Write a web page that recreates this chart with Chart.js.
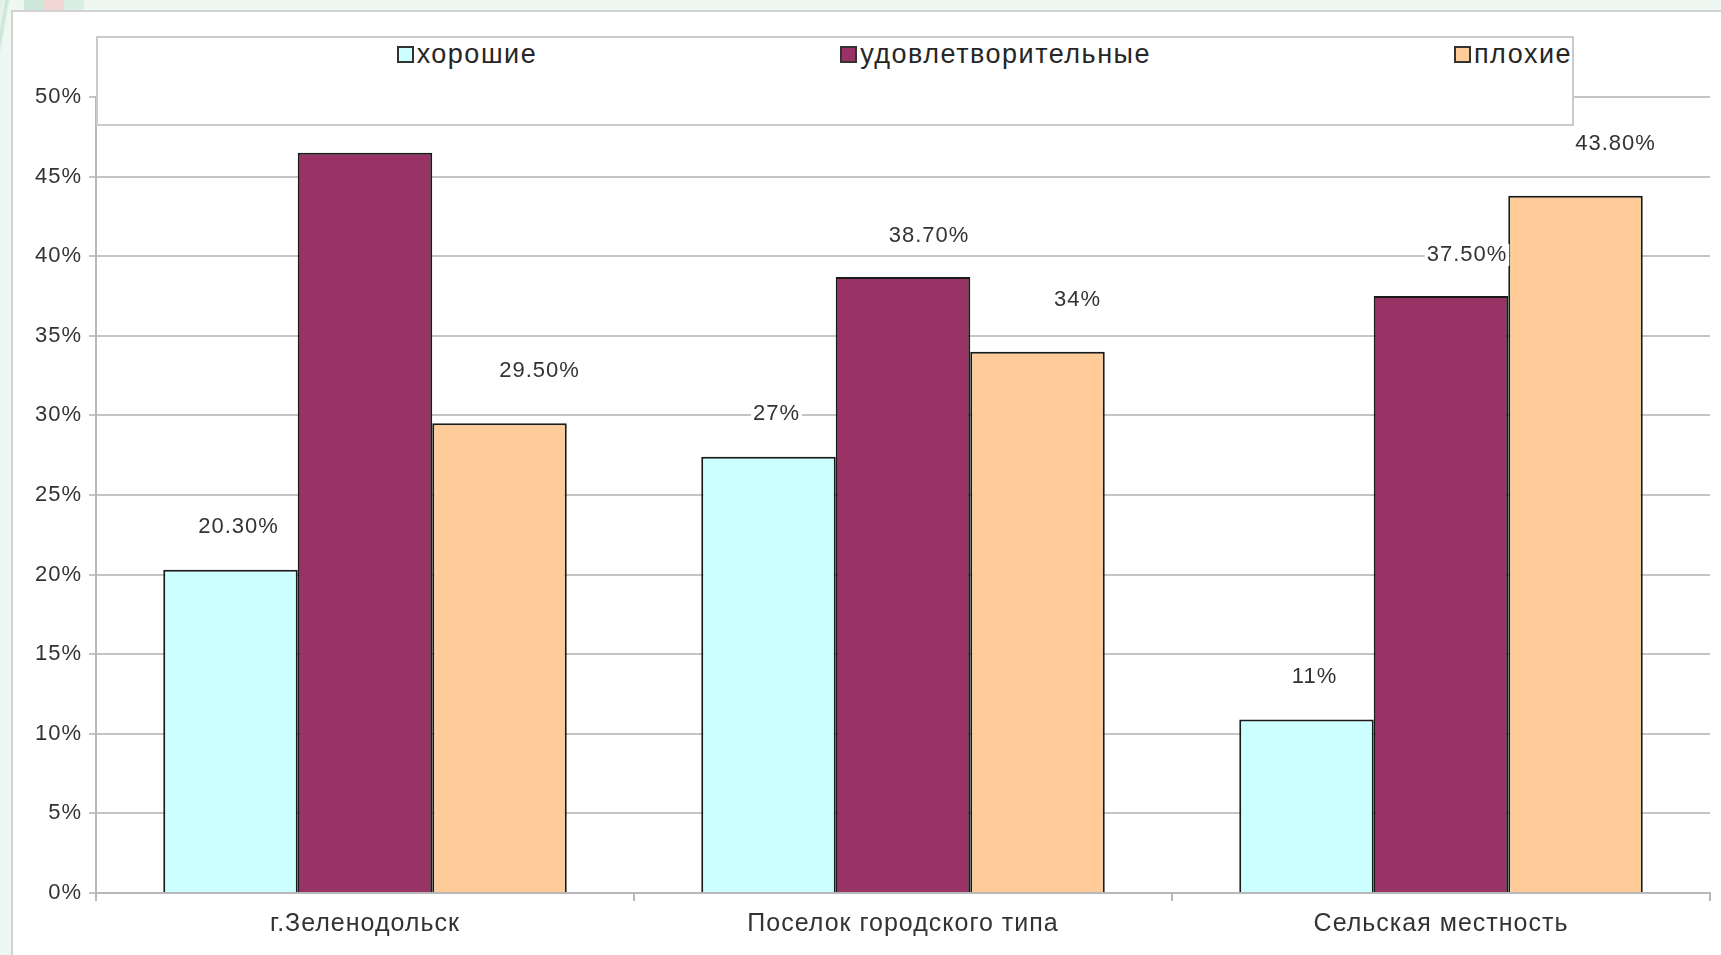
<!DOCTYPE html>
<html>
<head>
<meta charset="utf-8">
<script src="https://cdn.jsdelivr.net/npm/chart.js@4/dist/chart.umd.min.js"></script>
<style>
	html, body { margin: 0; padding: 0; }
	body {
		width: 1721px; height: 955px; overflow: hidden; position: relative;
		background: linear-gradient(100deg, #dcefe6 0px, #e8f4ee 4px, #c7e3d5 7px, #eef7f2 10px);
		font-family: "Liberation Sans", Arial, sans-serif;
	}
	#frame {
		position: absolute; left: 11px; top: 10px; width: 1720px; height: 960px;
		background: #fff; border: 2px solid #d2d2d2; box-sizing: border-box;
	}
	#topStrip {
		position: absolute; left: 24px; top: 0; width: 60px; height: 10px;
		background: linear-gradient(90deg, #cfe8dc 0, #cfe8dc 20px, #f3d6d6 20px, #f3d6d6 40px, #d9eee4 40px);
	}
	#chartCanvas { position: absolute; left: 0; top: 0; }
	#legendBox {
		position: absolute; left: 96px; top: 36px; width: 1478px; height: 90px;
		box-sizing: border-box; border: 2px solid #cacaca; background: #fff;
		display: flex; justify-content: flex-end; align-items: flex-start;
		gap: 303px; padding-top: 1px;
	}
	.legendItem { display: flex; align-items: center; font-size: 27px; letter-spacing: 1.5px; color: #262626; line-height: 30px; }
	.legendSwatch { width: 17px; height: 17px; box-sizing: border-box; border: 2px solid #333; margin-right: 3px; }
</style>
</head>
<body>
<div id="topStrip"></div>
<div id="frame"></div>
<canvas id="chartCanvas" width="1721" height="955"></canvas>
<div id="legendBox"></div>
<script>
// categories and series
var categories = ["г.Зеленодольск", "Поселок городского типа", "Сельская местность"];
var seriesNames = ["хорошие", "удовлетворительные", "плохие"];

var goodValues = [20.3, 27.4, 10.9];
var fairValues = [46.5, 38.7, 37.5];
var poorValues = [29.5, 34.0, 43.8];

// labels as printed above the bars (first maroon bar has none)
var goodLabels = ["20.30%", "27%", "11%"];
var fairLabels = ["", "38.70%", "37.50%"];
var poorLabels = ["29.50%", "34%", "43.80%"];

var yMin = 0, yMax = 50, yStep = 5;

var seriesColors = ["#CCFFFF", "#993366", "#FFCC99"];

// how far each series label sits from its bar top
var labelShift = [
	{ dx: 8, dy: 43 },
	{ dx: 26, dy: 41 },
	{ dx: 40, dy: 52 }
];

var textFamily = '"Liberation Sans", Arial, sans-serif';

var barLabelsPlugin = {
	id: "barLabels",
	beforeDraw: function(chart){
		// the source text is a bit stretched sideways
		chart.ctx.letterSpacing = "1px";
	},
	afterDatasetsDraw: function(chart){
		var ctx = chart.ctx;
		ctx.save();
		ctx.font = "22px " + textFamily;
		ctx.textAlign = "center";
		ctx.textBaseline = "middle";
		chart.data.datasets.forEach(function(ds, i){
			var meta = chart.getDatasetMeta(i);
			meta.data.forEach(function(bar, j){
				var txt = ds.valueLabels[j];
				if(!txt){ return; }
				var x = bar.x + labelShift[i].dx;
				var y = bar.y - labelShift[i].dy;
				var w = ctx.measureText(txt).width;
				ctx.fillStyle = "#fff";
				ctx.fillRect(x - w / 2 - 2, y - 11, w + 4, 22);
				ctx.fillStyle = "#333";
				ctx.fillText(txt, x, y);
			});
		});
		ctx.restore();
	}
};

var allValues = [goodValues, fairValues, poorValues];
var allLabels = [goodLabels, fairLabels, poorLabels];

var datasets = [];
for(var i = 0; i < seriesNames.length; i++){
	datasets.push({
		label: seriesNames[i],
		data: allValues[i],
		valueLabels: allLabels[i],
		backgroundColor: seriesColors[i],
		borderColor: "#1a1a1a",
		borderWidth: 2,
		categoryPercentage: 0.75,
		barPercentage: 1.0
	});
}

// html legend, built from the datasets
var legendBox = document.getElementById("legendBox");
datasets.forEach(function(ds){
	var item = document.createElement("div");
	item.className = "legendItem";
	var sw = document.createElement("span");
	sw.className = "legendSwatch";
	sw.style.background = ds.backgroundColor;
	item.appendChild(sw);
	item.appendChild(document.createTextNode(ds.label));
	legendBox.appendChild(item);
});

var ctx = document.getElementById("chartCanvas");
var barChart = new Chart(ctx, {
	type: "bar",
	data: { labels: categories, datasets: datasets },
	plugins: [barLabelsPlugin],
	options: {
		responsive: false,
		animation: false,
		layout: { padding: { left: 0, top: 97, right: 11, bottom: 0 } },
		plugins: {
			legend: { display: false },
			tooltip: { enabled: false }
		},
		scales: {
			x: {
				afterFit: function(s){ s.height = 62; },
				grid: { drawOnChartArea: false, drawTicks: true, tickLength: 8, color: "#b8b8b8", lineWidth: 2 },
				border: { color: "#b8b8b8", width: 2 },
				ticks: { color: "#333", font: { family: textFamily, size: 25 }, padding: 8 }
			},
			y: {
				min: yMin,
				max: yMax,
				afterFit: function(s){ s.width = 96; },
				grid: { color: "#c4c4c4", lineWidth: 2, tickLength: 7 },
				border: { color: "#b8b8b8", width: 2 },
				ticks: {
					stepSize: yStep,
					color: "#333",
					padding: 7,
					font: { family: textFamily, size: 22 },
					callback: function(v){ return v + "%"; }
				}
			}
		}
	}
});
</script>
</body>
</html>
